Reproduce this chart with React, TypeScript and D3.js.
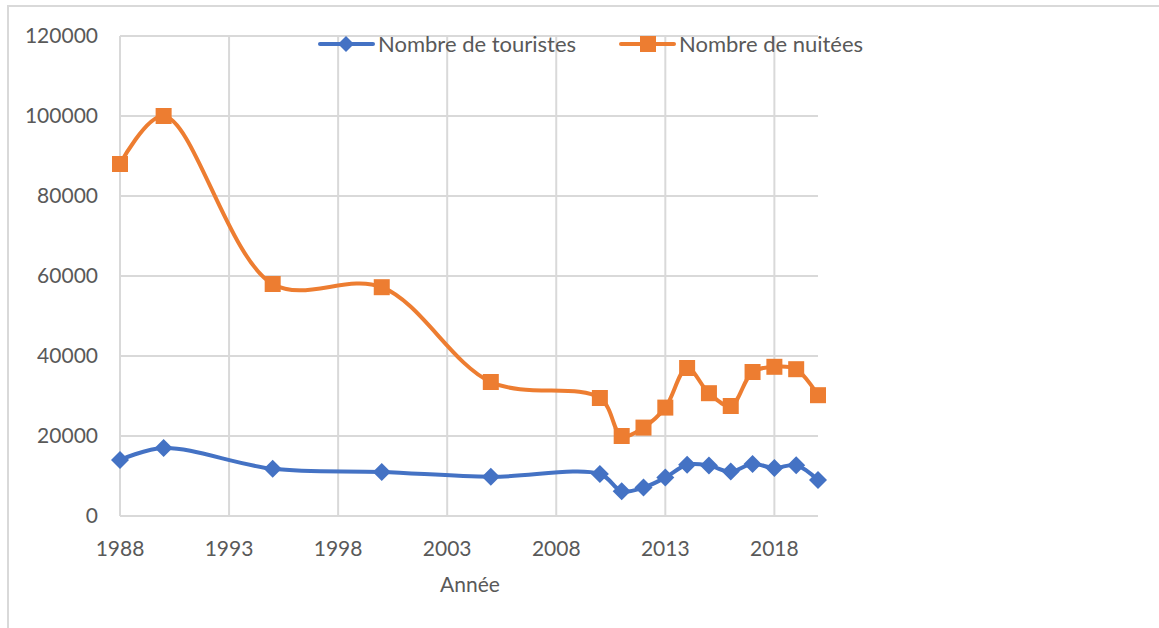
import React from "react";
import * as d3 from "d3";

const years = [1988, 1990, 1995, 2000, 2005, 2010, 2011, 2012, 2013, 2014, 2015, 2016, 2017, 2018, 2019, 2020];
const touristes = [14000, 17000, 11800, 11000, 9800, 10500, 6200, 7100, 9600, 12800, 12600, 11100, 13000, 12000, 12700, 9000];
const nuitees = [88000, 100000, 58000, 57200, 33500, 29500, 20000, 22100, 27100, 37000, 30700, 27500, 36000, 37300, 36700, 30200];
const xTicks = [1988, 1993, 1998, 2003, 2008, 2013, 2018];
const yTicks = [0, 20000, 40000, 60000, 80000, 100000, 120000];

const font = "Lato, 'Open Sans', sans-serif";
const textColor = "#595959";
const gridColor = "#d9d9d9";
const blue = "#4472C4";
const orange = "#ED7D31";

const App = () => {
    const width = 1159
    const height = 628

    // scales
    const xScale = d3.scaleLinear().domain([1988, 2020]).range([120, 818])
    const yScale = d3.scaleLinear().domain([0, 120000]).range([516, 36])

    // smoothed line, close to the spreadsheet look
    const line = d3.line<number>()
        .x((d, i) => xScale(years[i]))
        .y(d => yScale(d))
        .curve(d3.curveCatmullRom.alpha(0.5))

    const diamond = (x: number, y: number, s: number) =>
        `M${x},${y - s} L${x + s},${y} L${x},${y + s} L${x - s},${y} Z`

    const vGrid = xTicks.map(t => (
        <line key={"v" + t} x1={xScale(t)} x2={xScale(t)} y1={yScale(120000)} y2={yScale(0)}
            stroke={gridColor} strokeWidth={2} />
    ))
    const hGrid = yTicks.map(t => (
        <line key={"h" + t} x1={xScale(1988)} x2={xScale(2020)} y1={yScale(t)} y2={yScale(t)}
            stroke={gridColor} strokeWidth={2} />
    ))

    const yLabels = yTicks.map(t => (
        <text key={"yl" + t} x={98} y={yScale(t)} dy="0.35em" textAnchor="end"
            fontSize={21} fill={textColor} fontFamily={font}>{t}</text>
    ))
    const xLabels = xTicks.map(t => (
        <text key={"xl" + t} x={xScale(t)} y={556} textAnchor="middle"
            fontSize={21} fill={textColor} fontFamily={font}>{t}</text>
    ))

    const blueMarks = touristes.map((v, i) => (
        <path key={"b" + i} d={diamond(xScale(years[i]), yScale(v), 9)} fill={blue} />
    ))
    const orangeMarks = nuitees.map((v, i) => (
        <rect key={"o" + i} x={xScale(years[i]) - 8} y={yScale(v) - 8} width={16} height={16} fill={orange} />
    ))

    return <svg width={width} height={height} viewBox={`0 0 ${width} ${height}`}
        style={{ position: "absolute", left: 0, top: 0, background: "#fff" }}>
        <rect x={8} y={6} width={width + 20} height={height + 20} fill="#fff" stroke={gridColor} strokeWidth={2} />
        {hGrid}
        {vGrid}
        {yLabels}
        {xLabels}
        <text x={470} y={592} textAnchor="middle" fontSize={21} fill={textColor} fontFamily={font}>Année</text>
        <path d={line(touristes) || ""} fill="none" stroke={blue} strokeWidth={4} strokeLinecap="round" />
        <path d={line(nuitees) || ""} fill="none" stroke={orange} strokeWidth={4} strokeLinecap="round" />
        {blueMarks}
        {orangeMarks}
        <g>
            <line x1={320} x2={373} y1={44} y2={44} stroke={blue} strokeWidth={4} strokeLinecap="round" />
            <path d={diamond(346, 44, 8)} fill={blue} />
            <text x={378} y={44} dy="0.35em" fontSize={22} fill={textColor} fontFamily={font}>Nombre de touristes</text>
            <line x1={621} x2={674} y1={44} y2={44} stroke={orange} strokeWidth={4} strokeLinecap="round" />
            <rect x={640} y={36} width={16} height={16} fill={orange} />
            <text x={679} y={44} dy="0.35em" fontSize={22} fill={textColor} fontFamily={font}>Nombre de nuitées</text>
        </g>
    </svg>
}

export default App;
